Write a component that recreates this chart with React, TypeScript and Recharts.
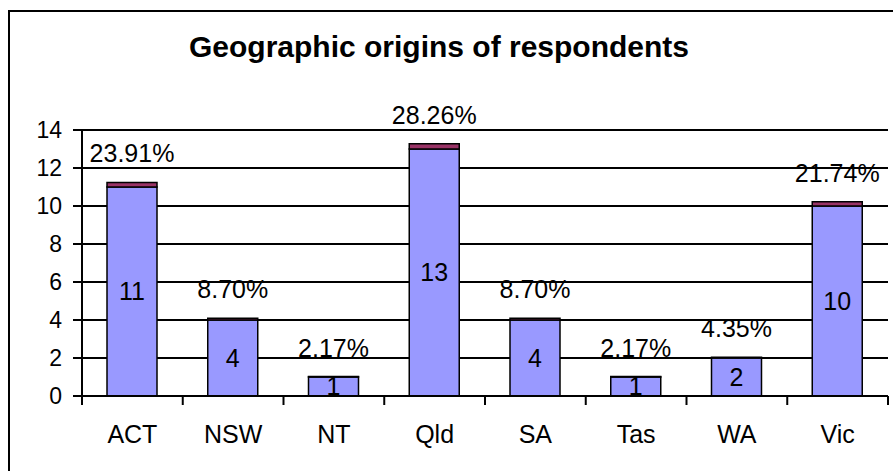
import { BarChart, Bar, XAxis, YAxis, CartesianGrid, LabelList } from 'recharts'

const states = ['ACT', 'NSW', 'NT', 'Qld', 'SA', 'Tas', 'WA', 'Vic']
const counts = [11, 4, 1, 13, 4, 1, 2, 10]
const shares = [23.91, 8.7, 2.17, 28.26, 8.7, 2.17, 4.35, 21.74]
const yTicks = [0, 2, 4, 6, 8, 10, 12, 14]

const data = states.map((s, i) => ({
  state: s,
  count: counts[i],
  share: shares[i] / 100,
  label: `${shares[i].toFixed(2)}%`,
}))

const W = 893
const H = 471
const M = { top: 130, right: 5, left: 0, bottom: 0 }
const Y_W = 82
const X_H = 75
const BAND = (W - M.left - M.right - Y_W) / states.length
const FONT = '"Liberation Sans", Arial, sans-serif'

function StateTick(props: any) {
  const { x, y, payload, index } = props
  const half = BAND / 2
  return (
    <g>
      <line x1={x - half} x2={x - half} y1={y} y2={y + 9} stroke="#000" strokeWidth={2} />
      {index === states.length - 1 && (
        <line x1={x + half} x2={x + half} y1={y} y2={y + 9} stroke="#000" strokeWidth={2} />
      )}
      <text x={x} y={y + 47} textAnchor="middle" fontSize={25} fill="#000" fontFamily={FONT}>
        {payload.value}
      </text>
    </g>
  )
}

export default function App() {
  return (
    <div style={{ position: 'fixed', left: 0, top: 0, width: W, height: H, overflow: 'hidden', background: '#fff' }}>
      <div style={{ position: 'absolute', left: 8, top: 10, width: 1000, height: 1000, border: '2px solid #000' }} />
      <div
        style={{
          position: 'absolute', left: 0, top: 32, width: 878, textAlign: 'center',
          fontFamily: FONT, fontWeight: 'bold', fontSize: 30, lineHeight: '30px', color: '#000',
        }}
      >
        Geographic origins of respondents
      </div>
      <div style={{ position: 'absolute', left: 0, top: 0 }}>
        <BarChart width={W} height={H} data={data} margin={M} barSize={50}>
          <CartesianGrid vertical={false} stroke="#000" strokeWidth={2} />
          <XAxis
            dataKey="state"
            height={X_H}
            axisLine={{ stroke: '#000', strokeWidth: 2 }}
            tickLine={false}
            tickSize={0}
            tickMargin={0}
            tick={<StateTick />}
            interval={0}
          />
          <YAxis
            width={Y_W}
            domain={[0, 14]}
            ticks={yTicks}
            interval={0}
            axisLine={{ stroke: '#000', strokeWidth: 2 }}
            tickLine={{ stroke: '#000', strokeWidth: 2 }}
            tickSize={9}
            tickMargin={11}
            tick={{ fill: '#000', fontSize: 23, fontFamily: FONT }}
          />
          <Bar dataKey="count" stackId="a" fill="#9999FF" stroke="#000" strokeWidth={1.5} isAnimationActive={false}>
            <LabelList dataKey="count" position="center" fill="#000" fontSize={25} fontFamily={FONT} />
          </Bar>
          <Bar dataKey="share" stackId="a" fill="#993366" stroke="#000" strokeWidth={1.5} isAnimationActive={false}>
            <LabelList dataKey="label" position="top" offset={20} fill="#000" fontSize={25} fontFamily={FONT} />
          </Bar>
        </BarChart>
      </div>
    </div>
  )
}
